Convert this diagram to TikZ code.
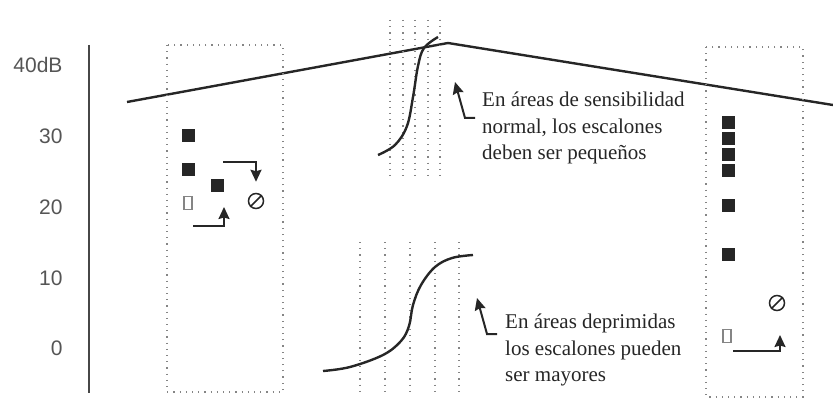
\documentclass[tikz,border=0pt]{standalone}
\usepackage{fontspec}
\setmainfont{Liberation Serif}
\setsansfont{Liberation Sans}
\usetikzlibrary{arrows.meta,positioning}

\definecolor{tinta}{HTML}{262626}
\definecolor{rotulo}{HTML}{555555}
\definecolor{punteo}{HTML}{858585}

\begin{document}
\begin{tikzpicture}[x=1pt,y=-1pt,>={Stealth[length=12pt,width=11pt,inset=1.5pt]},
  linea/.style={draw=tinta,line width=2.4pt},
  puntos/.style={draw=punteo,line width=1.2pt,dash pattern=on 1.2pt off 5pt},
  marca/.style={rectangle,fill=tinta,minimum size=13pt,inner sep=0pt},
  vacia/.style={rectangle,draw=punteo,line width=1.2pt,minimum width=8pt,minimum height=13pt,inner sep=0pt},
  nulo/.style={circle,draw=tinta,line width=1.5pt,minimum size=15pt,inner sep=0pt},
  escala/.style={anchor=east,text=rotulo,font=\sffamily\fontsize{21}{21}\selectfont},
  nota/.style={anchor=north west,align=left,text=tinta,inner sep=0pt,
    font=\fontsize{21}{26.5}\selectfont},
  guia/.style={draw=tinta,line width=2pt,->}]

  \useasboundingbox (0,0) rectangle (833,401);

  % Eje
  \coordinate (ejeA) at (89,45);
  \coordinate (ejeB) at (89,393);
  \draw[draw=tinta!85,line width=2.4pt] (ejeA) -- (ejeB);
  \node[escala] (n40) at (66,65) {40dB};
  \foreach \v/\y in {30/136,20/207,10/278,0/348}
    \node[escala] (n\v) at (66,\y) {\v};

  % Umbral
  \coordinate (umbralA) at (127,102);
  \coordinate (umbralB) at (448,43);
  \coordinate (umbralC) at (833,105);
  \draw[linea] (umbralA) -- (umbralB) -- (umbralC);

  % Cajas y rejillas
  \draw[puntos] (167,45) rectangle (283,392);
  \draw[puntos] (706,47) rectangle (803,397);
  \foreach \x in {390,403,415,428,440}
    \draw[puntos] (\x,20) -- (\x,178);
  \foreach \x in {360,385,410,435,459}
    \draw[puntos] (\x,242) -- (\x,393);

  % Curvas
  \draw[linea] plot[smooth,tension=0.6] coordinates
    {(378,155) (395,145) (407,126) (413,97) (418,66) (424,48) (438,37)};
  \draw[linea] plot[smooth,tension=0.6] coordinates
    {(323,371) (350,367) (383,355) (401,341) (409,326) (413,305)
     (421,285) (435,267) (452,258) (473,255)};

  % Respuestas, caja izquierda
  \node[marca] (a1) at (188,136) {};
  \node[marca] (a2) at (188,170) {};
  \node[marca] (a3) at (217,186) {};
  \node[vacia] (a0) at (188,203) {};
  \node[nulo] (a4) at (256,201) {};
  \draw[tinta,line width=1.5pt] (a4.south west) -- (a4.north east);
  \coordinate (f1) at (223,162);
  \coordinate (f2) at (193,226);
  \coordinate (f2t) at (224,207);
  \draw[guia] (f1) -| ([yshift=11pt]a4.north);
  \draw[guia] (f2) -| (f2t);

  % Respuestas, caja derecha
  \foreach \y [count=\i] in {123,139,155,171,205,254}
    \node[marca] (b\i) at (728,\y) {};
  \node[nulo] (b0) at (777,303) {};
  \draw[tinta,line width=1.5pt] (b0.south west) -- (b0.north east);
  \node[vacia] (bv) at (727,336) {};
  \coordinate (f3) at (733,351);
  \coordinate (f3t) at (780,335);
  \draw[guia] (f3) -| (f3t);

  % Notas
  \node[nota] (t1) at (482,92) {En áreas de sensibilidad\\normal, los escalones\\deben ser pequeños};
  \node[nota] (t2) at (505,314) {En áreas deprimidas\\los escalones pueden\\ser mayores};
  \coordinate (g1a) at (475,118);
  \coordinate (g1b) at (465,118);
  \coordinate (g1c) at (455,82);
  \draw[guia] (g1a) -- (g1b) -- (g1c);
  \coordinate (g2a) at (497,334);
  \coordinate (g2b) at (487,334);
  \coordinate (g2c) at (477,298);
  \draw[guia] (g2a) -- (g2b) -- (g2c);

\end{tikzpicture}
\end{document}
